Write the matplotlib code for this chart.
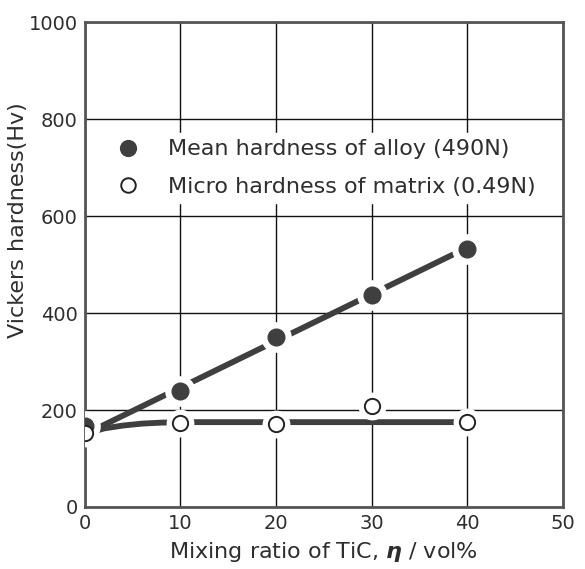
import numpy as np
import matplotlib.pyplot as plt

# values
ratio = [0, 10, 20, 30, 40]
mean_hv = [168, 240, 350, 437, 533]      # filled circles, 490 N
micro_hv = [152, 174, 172, 209, 176]     # open circles, 0.49 N

# hand drawn trend lines
mean_fit_x = [0, 40]
mean_fit_y = [150, 535]
micro_fit_x = [0, 2, 4, 6, 8, 10, 40]
micro_fit_y = [150, 162, 168, 172, 174, 175, 175]

xticks = [0, 10, 20, 30, 40, 50]
yticks = [0, 200, 400, 600, 800, 1000]

ink = '#3f3f3f'
txt = '#2e2e2e'

fig = plt.figure(figsize=(5.85, 5.69), dpi=100)
ax = fig.add_axes([0.145, 0.109, 0.817, 0.852])

ax.set_xlim(0, 50)
ax.set_ylim(0, 1000)
ax.set_xticks(xticks)
ax.set_yticks(yticks)
ax.tick_params(length=0, labelsize=14, colors=txt, pad=5)
ax.grid(True, color='#111111', linewidth=1.0)
ax.set_axisbelow(True)
for s in ax.spines.values():
    s.set_linewidth(2.0)
    s.set_color('#555555')

# trend lines
ax.plot(mean_fit_x, mean_fit_y, color=ink, lw=4.2, solid_capstyle='butt', zorder=3)
ax.plot(micro_fit_x, micro_fit_y, color=ink, lw=4.2, solid_capstyle='butt', zorder=3)

# white halo so lines and grid break around the markers
ax.plot(ratio, mean_hv, 'o', ms=21, color='white', zorder=4)
ax.plot(ratio, micro_hv, 'o', ms=19, color='white', zorder=4)

ax.plot(ratio, mean_hv, 'o', ms=12, color=ink, mec=ink, zorder=5,
        label='Mean hardness of alloy (490N)')
ax.plot(ratio, micro_hv, 'o', ms=11, mfc='white', mec='#222222', mew=1.4, zorder=6,
        label='Micro hardness of matrix (0.49N)')

leg = ax.legend(loc='center left', bbox_to_anchor=(0.006, 0.699), fontsize=16,
                frameon=True, framealpha=1, edgecolor='white', facecolor='white',
                handletextpad=0.8, labelspacing=0.78, borderpad=0.3, markerscale=0.95,
                labelcolor=txt, fancybox=False)
leg.set_zorder(7)

ax.set_xlabel('Mixing ratio of TiC, $\\boldsymbol{\\eta}$ / vol%', fontsize=16,
              color=txt, labelpad=5)
ax.set_ylabel('Vickers hardness(Hv)', fontsize=16, color=txt)
ax.yaxis.set_label_coords(-0.118, 0.592)

fig.savefig('out.png', dpi=100)
